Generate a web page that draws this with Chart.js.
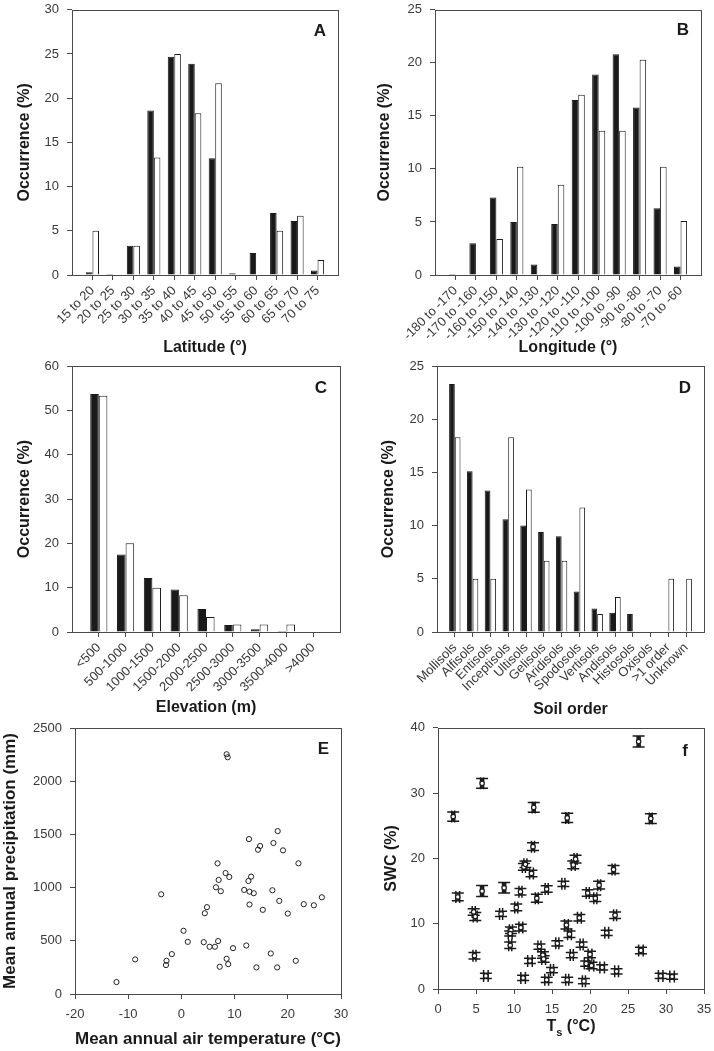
<!DOCTYPE html>
<html>
<head>
<meta charset="utf-8">
<script src="https://cdn.jsdelivr.net/npm/chart.js@4.4.1/dist/chart.umd.min.js"></script>
<style>
  html, body { margin: 0; padding: 0; background: #fff; }
  #wrap { position: relative; width: 714px; height: 1051px; overflow: hidden; background: #fff; }
  canvas { position: absolute; }
</style>
</head>
<body>
<div id="wrap">
  <canvas id="cA"></canvas>
  <canvas id="cB"></canvas>
  <canvas id="cC"></canvas>
  <canvas id="cD"></canvas>
  <canvas id="cE"></canvas>
  <canvas id="cF"></canvas>
</div>
<script>
// ---- data ----
// A: latitude
const latLabels = ['15 to 20', '20 to 25', '25 to 30', '30 to 35', '35 to 40', '40 to 45',
  '45 to 50', '50 to 55', '55 to 60', '60 to 65', '65 to 70', '70 to 75'];
const latFilled = [0.3, 0.1, 3.3, 18.6, 24.7, 23.9, 13.2, 0.2, 2.5, 7.0, 6.1, 0.5];
const latOpen   = [5.0, 0, 3.3, 13.3, 25.0, 18.3, 21.7, 0, 0, 5.0, 6.7, 1.7];

// B: longitude
const lonLabels = ['-180 to -170', '-170 to -160', '-160 to -150', '-150 to -140', '-140 to -130',
  '-130 to -120', '-120 to -110', '-110 to -100', '-100 to -90', '-90 to -80', '-80 to -70', '-70 to -60'];
const lonFilled = [0.1, 3.0, 7.3, 5.0, 1.0, 4.8, 16.5, 18.9, 20.8, 15.8, 6.3, 0.8];
const lonOpen   = [0, 0, 3.4, 10.2, 0, 8.5, 17.0, 13.6, 13.6, 20.3, 10.2, 5.1];

// C: elevation
const elevLabels = ['<500', '500-1000', '1000-1500', '1500-2000', '2000-2500', '2500-3000',
  '3000-3500', '3500-4000', '>4000'];
const elevFilled = [53.7, 17.5, 12.2, 9.6, 5.2, 1.6, 0.6, 0.2, 0];
const elevOpen   = [53.3, 20.0, 10.0, 8.3, 3.4, 1.7, 1.7, 1.7, 0];

// D: soil order
const soilLabels = ['Mollisols', 'Alfisols', 'Entisols', 'Inceptisols', 'Ultisols', 'Gelisols',
  'Aridisols', 'Spodosols', 'Vertisols', 'Andisols', 'Histosols', 'Oxisols', '>1 order', 'Unknown'];
const soilFilled = [23.3, 15.1, 13.3, 10.6, 10.0, 9.4, 9.0, 3.8, 2.2, 1.8, 1.7, 0, 0, 0];
const soilOpen   = [18.3, 5.0, 5.0, 18.3, 13.4, 6.7, 6.7, 11.7, 1.7, 3.3, 0, 0, 5.0, 5.0];

// E: climate of sites
const eTemp = [-12.2, -8.7, -2.9, -2.8, -1.8, -3.8, 0.4, 1.2, 4.2, 4.4, 4.8, 5.3, 6.3, 6.9, 7.2,
  6.5, 7.0, 6.8, 7.4, 8.3, 9.0, 8.5, 8.8, 8.5, 8.7, 9.7, 11.8, 12.2, 12.6, 12.7, 12.8, 13.1, 13.6,
  12.8, 14.1, 14.4, 14.8, 15.3, 16.8, 17.1, 17.3, 18.1, 18.0, 18.4, 19.1, 20.0, 21.5, 22.0, 23.0,
  24.9, 26.4];
const ePrecip = [112, 325, 272, 312, 375, 937, 594, 490, 487, 759, 816, 444, 444, 497, 256,
  1003, 1072, 1228, 966, 1137, 1100, 331, 281, 2253, 2225, 431, 978, 456, 1062, 1456, 962, 1103, 947,
  841, 250, 1356, 1391, 791, 381, 975, 1419, 1531, 250, 875, 1350, 756, 312, 1228, 844,
  834, 909];

// f: soil temperature vs soil water content, with errors
const ts = [2.0, 2.6, 5.8, 5.8, 4.7, 4.9, 4.8, 6.3, 8.3, 8.7, 9.6, 9.5, 9.5, 10.3, 10.85, 10.9,
  11.3, 11.5, 11.2, 12.3, 12.5, 12.6, 12.1, 13.0, 13.35, 13.8, 13.9, 14.3, 14.3, 15.0, 15.7, 16.5,
  17.0, 16.9, 17.0, 17.3, 17.6, 17.8, 18.1, 18.6, 18.9, 19.2, 19.7, 20.0, 19.5, 20.2, 20.7, 21.2,
  21.6, 22.2, 23.1, 23.3, 23.5, 26.4, 26.7, 28.0, 29.3, 30.8];
const swc = [26.4, 14.1, 31.5, 15.0, 11.8, 11.1, 5.1, 2.0, 11.5, 15.5, 9.0, 8.5, 6.7, 12.5, 14.9, 9.4,
  18.7, 19.1, 1.7, 17.7, 21.8, 27.8, 4.3, 13.9, 6.5, 5.2, 4.6, 15.3, 1.4, 2.9, 7.0, 16.1,
  26.2, 9.8, 1.4, 8.4, 5.2, 19.0, 19.9, 10.9, 6.8, 1.2, 14.7, 5.3, 3.9, 3.6, 13.9, 15.9,
  3.3, 8.6, 18.3, 11.3, 2.7, 37.9, 5.9, 26.1, 2.0, 1.9];
const swcErr = [0.7, 0.6, 0.75, 0.85, 0.5, 0.6, 0.5, 0.4, 0.4, 0.8, 0.5, 0.4, 0.5, 0.5, 0.5, 0.5,
  0.5, 0.5, 0.4, 0.5, 0.6, 0.75, 0.4, 0.6, 0.4, 0.5, 0.5, 0.5, 0.4, 0.4, 0.4, 0.4,
  0.7, 0.6, 0.4, 0.5, 0.4, 0.6, 0.6, 0.5, 0.4, 0.4, 0.5, 0.5, 0.4, 0.5, 0.5, 0.6,
  0.4, 0.4, 0.6, 0.5, 0.4, 0.85, 0.5, 0.75, 0.4, 0.4];
const tsErr = [0.2, 0.25, 0.2, 0.2, 0.2, 0.25, 0.2, 0.3, 0.2, 0.2, 0.2, 0.25, 0.2, 0.2, 0.2, 0.25,
  0.2, 0.2, 0.3, 0.25, 0.2, 0.2, 0.3, 0.2, 0.2, 0.25, 0.25, 0.2, 0.25, 0.2, 0.2, 0.2,
  0.2, 0.25, 0.2, 0.25, 0.2, 0.25, 0.2, 0.25, 0.2, 0.2, 0.2, 0.25, 0.25, 0.3, 0.2, 0.2,
  0.3, 0.25, 0.2, 0.2, 0.25, 0.2, 0.3, 0.2, 0.3, 0.3];

// ---- look ----
const FONT = "'Liberation Sans', Arial, Helvetica, sans-serif";
const AXIS = '#4a4a4a';
const TICK = '#3a3a3a';
const TXT = '#1a1a1a';

// page-space geometry of each panel: canvas box (x,y,w,h), plot area (l,t,r,b),
// x-title centre y (xt), y-title centre x (yt)
const boxes = {
  A: { x: 0,   y: -6,  w: 372, h: 368, l: 72,  t: 8,   r: 338, b: 275, xt: 348,  yt: 25 },
  B: { x: 357, y: -6,  w: 380, h: 368, l: 435, t: 8,   r: 701, b: 275, xt: 348,  yt: 385 },
  C: { x: 0,   y: 350, w: 372, h: 372, l: 72,  t: 366, r: 340, b: 632, xt: 708,  yt: 25 },
  D: { x: 357, y: 350, w: 380, h: 372, l: 437, t: 366, r: 704, b: 632, xt: 710,  yt: 389 },
  E: { x: 0,   y: 712, w: 372, h: 339, l: 75,  t: 728, r: 341, b: 994, xt: 1039, yt: 10 },
  F: { x: 357, y: 712, w: 380, h: 339, l: 438, t: 723, r: 704, b: 989, xt: 1027, yt: 392 }
};

// frame around the plot + panel letter
const panelDeco = {
  id: 'panelDeco',
  afterDraw(chart, args, opts) {
    const { ctx, chartArea: a } = chart;
    ctx.save();
    ctx.strokeStyle = AXIS;
    ctx.lineWidth = 1;
    ctx.strokeRect(Math.round(a.left) + 0.5, Math.round(a.top) + 0.5,
      Math.round(a.right - a.left), Math.round(a.bottom - a.top));
    ctx.fillStyle = TXT;
    ctx.font = 'bold 17px ' + FONT;
    ctx.textAlign = 'right';
    ctx.textBaseline = 'middle';
    ctx.fillText(opts.letter, a.right - opts.dx, a.top + opts.dy);
    ctx.restore();
  }
};
Chart.register(panelDeco);

function fnt(size, bold) {
  return { family: FONT, size: size, weight: bold ? 'bold' : 'normal' };
}

function baseScale(box, axis, title, titleSize) {
  const lh = titleSize * 1.2;
  const s = {
    grid: { drawOnChartArea: false, drawTicks: true, tickLength: 5, color: AXIS, offset: false },
    border: { display: false },
    ticks: { color: TICK, font: fnt(13), padding: 8 },
    title: { display: !!title, text: title, color: TXT, font: fnt(titleSize, true) }
  };
  if (axis === 'x') {
    s.title.padding = { top: 0, bottom: Math.max(0, box.y + box.h - box.xt - lh / 2) };
    s.afterFit = sc => { sc.height = box.y + box.h - box.b; };
  } else {
    s.title.padding = { top: Math.max(0, box.yt - box.x - lh / 2), bottom: 0 };
    s.afterFit = sc => { sc.width = box.l - box.x; };
  }
  return s;
}

function makeChart(id, box, type, data, xs, ys, deco, extra) {
  const cv = document.getElementById(id);
  cv.width = box.w;
  cv.height = box.h;
  cv.style.left = box.x + 'px';
  cv.style.top = box.y + 'px';
  return new Chart(cv, {
    type: type,
    data: data,
    options: {
      responsive: false,
      animation: false,
      layout: { padding: { left: 0, top: box.t - box.y, right: box.x + box.w - box.r, bottom: 0 } },
      scales: { x: xs, y: ys },
      plugins: { legend: { display: false }, tooltip: { enabled: false }, panelDeco: deco }
    },
    plugins: extra || []
  });
}

function barPanel(id, box, labels, filled, open, yMax, yStep, xTitle, deco) {
  const xs = baseScale(box, 'x', xTitle, 16);
  Object.assign(xs, {
    type: 'linear', min: -1, max: labels.length, offset: false,
    afterBuildTicks: s => { s.ticks = labels.map((_, i) => ({ value: i })); }
  });
  Object.assign(xs.ticks, {
    autoSkip: false, minRotation: 45, maxRotation: 45, padding: 3,
    callback: v => labels[v]
  });
  const ys = baseScale(box, 'y', 'Occurrence (%)', 16);
  Object.assign(ys, { min: 0, max: yMax });
  ys.ticks.stepSize = yStep;
  const ds = (vals, bg) => ({
    data: vals.map((v, i) => ({ x: i, y: v })),
    backgroundColor: bg, borderColor: '#1a1a1a', borderWidth: 1,
    categoryPercentage: 0.64, barPercentage: 1.0
  });
  makeChart(id, box, 'bar', { datasets: [ds(filled, '#1a1a1a'), ds(open, '#ffffff')] }, xs, ys, deco);
}

barPanel('cA', boxes.A, latLabels, latFilled, latOpen, 30, 5, 'Latitude (°)', { letter: 'A', dx: 12, dy: 22 });
barPanel('cB', boxes.B, lonLabels, lonFilled, lonOpen, 25, 5, 'Longitude (°)', { letter: 'B', dx: 12, dy: 21 });
barPanel('cC', boxes.C, elevLabels, elevFilled, elevOpen, 60, 10, 'Elevation (m)', { letter: 'C', dx: 13, dy: 22 });
barPanel('cD', boxes.D, soilLabels, soilFilled, soilOpen, 25, 5, 'Soil order', { letter: 'D', dx: 13, dy: 22 });

// E
const ex = baseScale(boxes.E, 'x', 'Mean annual air temperature (°C)', 17);
Object.assign(ex, { type: 'linear', min: -20, max: 30 });
Object.assign(ex.ticks, { stepSize: 10, callback: v => String(v) });
const ey = baseScale(boxes.E, 'y', 'Mean annual precipitation (mm)', 17);
Object.assign(ey, { min: 0, max: 2500 });
Object.assign(ey.ticks, { stepSize: 500, callback: v => String(v) });
makeChart('cE', boxes.E, 'scatter', {
  datasets: [{
    data: eTemp.map((t, i) => ({ x: t, y: ePrecip[i] })),
    pointRadius: 2.6, pointBorderWidth: 1, pointBorderColor: '#222',
    pointBackgroundColor: 'rgba(255,255,255,0)'
  }]
}, ex, ey, { letter: 'E', dx: 12, dy: 21 });

// f
const errorBars = {
  id: 'errorBars',
  beforeDatasetsDraw(chart) {
    const { ctx, scales: { x, y } } = chart;
    const cap = 6;
    ctx.save();
    ctx.strokeStyle = '#1a1a1a';
    ctx.lineWidth = 1.5;
    ts.forEach((t, i) => {
      const px = x.getPixelForValue(t), py = y.getPixelForValue(swc[i]);
      const y1 = y.getPixelForValue(swc[i] - swcErr[i]), y2 = y.getPixelForValue(swc[i] + swcErr[i]);
      const x1 = x.getPixelForValue(t - tsErr[i]), x2 = x.getPixelForValue(t + tsErr[i]);
      ctx.beginPath();
      ctx.moveTo(px, y1); ctx.lineTo(px, y2);
      ctx.moveTo(px - cap, y1); ctx.lineTo(px + cap, y1);
      ctx.moveTo(px - cap, y2); ctx.lineTo(px + cap, y2);
      ctx.moveTo(x1, py); ctx.lineTo(x2, py);
      ctx.moveTo(x1, py - cap); ctx.lineTo(x1, py + cap);
      ctx.moveTo(x2, py - cap); ctx.lineTo(x2, py + cap);
      ctx.stroke();
    });
    ctx.restore();
  }
};

// x title with subscript s
const tsTitle = {
  id: 'tsTitle',
  afterDraw(chart) {
    const { ctx, chartArea: a } = chart;
    const cy = boxes.F.xt - boxes.F.y;
    ctx.save();
    ctx.fillStyle = TXT;
    ctx.textBaseline = 'middle';
    ctx.textAlign = 'left';
    const big = 'bold 16px ' + FONT, small = 'bold 11px ' + FONT;
    ctx.font = big;
    const wT = ctx.measureText('T').width, wR = ctx.measureText(' (°C)').width;
    ctx.font = small;
    const wS = ctx.measureText('s').width;
    let x0 = (a.left + a.right) / 2 - (wT + wS + wR) / 2;
    ctx.font = big;
    ctx.fillText('T', x0, cy);
    ctx.font = small;
    ctx.fillText('s', x0 + wT, cy + 6);
    ctx.font = big;
    ctx.fillText(' (°C)', x0 + wT + wS, cy);
    ctx.restore();
  }
};

const fx = baseScale(boxes.F, 'x', '', 16);
Object.assign(fx, { type: 'linear', min: 0, max: 35 });
Object.assign(fx.ticks, { stepSize: 5, callback: v => String(v) });
const fy = baseScale(boxes.F, 'y', 'SWC (%)', 16);
Object.assign(fy, { min: 0, max: 40 });
Object.assign(fy.ticks, { stepSize: 10, callback: v => String(v) });
makeChart('cF', boxes.F, 'scatter', {
  datasets: [{
    data: ts.map((t, i) => ({ x: t, y: swc[i] })),
    pointRadius: 2.2, pointBorderWidth: 1.2, pointBorderColor: '#1a1a1a',
    pointBackgroundColor: '#ffffff'
  }]
}, fx, fy, { letter: 'f', dx: 16, dy: 24 }, [errorBars, tsTitle]);
</script>
</body>
</html>
